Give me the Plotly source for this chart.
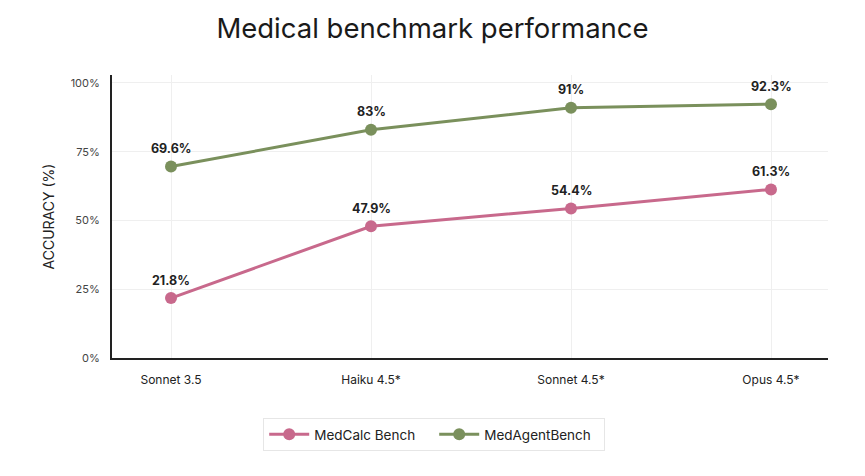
import plotly.graph_objects as go

models = ["Sonnet 3.5", "Haiku 4.5*", "Sonnet 4.5*", "Opus 4.5*"]
medcalc = [21.8, 47.9, 54.4, 61.3]
medagent = [69.6, 83.0, 91.0, 92.3]
medcalc_labels = ["21.8%", "47.9%", "54.4%", "61.3%"]
medagent_labels = ["69.6%", "83%", "91%", "92.3%"]
y_ticks = [0, 25, 50, 75, 100]
y_tick_text = ["0%", "25%", "50%", "75%", "100%"]

PINK = "#C8698C"
GREEN = "#7A905C"
FONT = "Inter, Lato, sans-serif"

fig = go.Figure()
xi = list(range(len(models)))
fig.add_trace(go.Scatter(x=xi, y=medcalc, mode="lines+markers", name="MedCalc Bench",
                         line=dict(color=PINK, width=3), marker=dict(size=12, color=PINK)))
fig.add_trace(go.Scatter(x=xi, y=medagent, mode="lines+markers", name="MedAgentBench",
                         line=dict(color=GREEN, width=3), marker=dict(size=12, color=GREEN)))

for vals, labs in ((medcalc, medcalc_labels), (medagent, medagent_labels)):
    for i, (v, t) in enumerate(zip(vals, labs)):
        fig.add_annotation(x=i, y=v, text="<b>" + t + "</b>", showarrow=False,
                           yshift=18, font=dict(size=12.5, color="#222", family=FONT))

fig.update_layout(
    width=865, height=476,
    margin=dict(l=112, r=37, t=75, b=118, autoexpand=False),
    paper_bgcolor="white", plot_bgcolor="white",
    title=dict(text="Medical benchmark performance", x=0.5, xanchor="center",
               y=0.94, yanchor="middle", font=dict(size=27.5, color="#1a1a1a", family=FONT)),
    font=dict(family=FONT, color="#333"),
    showlegend=True,
    legend=dict(orientation="h", x=0.45, xanchor="center", y=-0.212, yanchor="top",
                bordercolor="#e6e6e6", borderwidth=1, bgcolor="white",
                font=dict(size=13.5, color="#222", family=FONT), itemwidth=40,
                entrywidth=115),
)
fig.update_xaxes(range=[-0.295, 3.285], tickvals=xi, ticktext=models,
                 showgrid=True, gridcolor="#efefef", gridwidth=1,
                 showline=True, linecolor="#222", linewidth=2,
                 ticks="", tickfont=dict(size=12, color="#222"), ticklabelstandoff=10,
                 tickangle=0, automargin=False,
                 zeroline=False, fixedrange=True)
fig.update_yaxes(range=[0, 102.9], tickvals=y_ticks, ticktext=y_tick_text,
                 showgrid=True, gridcolor="#efefef", gridwidth=1,
                 showline=True, linecolor="#222", linewidth=2,
                 ticks="", tickfont=dict(size=11, color="#444"), ticklabelstandoff=8,
                 automargin=False,
                 title=dict(text="ACCURACY (%)", font=dict(size=14, color="#222"), standoff=13),
                 zeroline=False, fixedrange=True)

fig.write_html("out.html", config={"displayModeBar": False},
               post_script="document.body.style.margin='0';")
